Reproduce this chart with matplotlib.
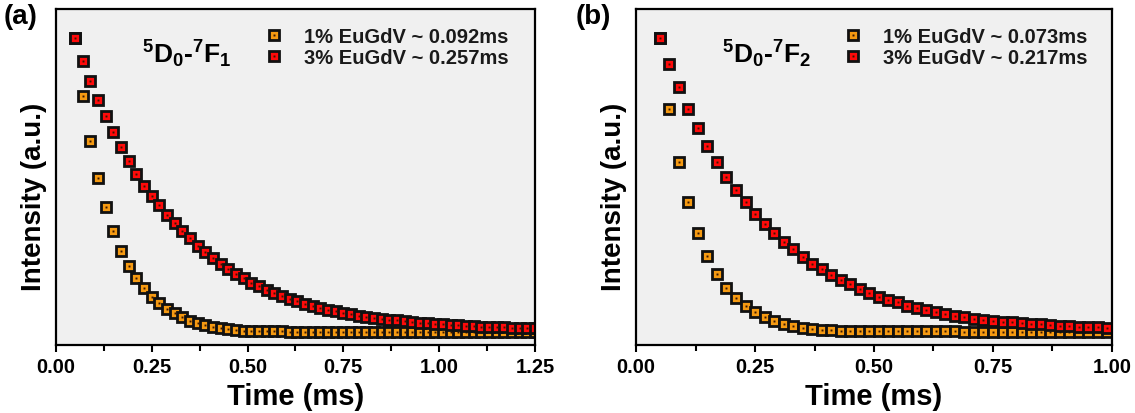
import numpy as np
import matplotlib.pyplot as plt
from matplotlib.ticker import MultipleLocator, NullLocator
from matplotlib.legend_handler import HandlerTuple

plt.rcParams['font.family'] = ['Liberation Sans', 'DejaVu Sans']
plt.rcParams['font.weight'] = 'bold'
plt.rcParams['mathtext.fontset'] = 'custom'
plt.rcParams['mathtext.rm'] = 'Liberation Sans:bold'
plt.rcParams['mathtext.bf'] = 'Liberation Sans:bold'
plt.rcParams['mathtext.default'] = 'bf'

# normalised decay curves, sampled every 0.02 ms starting at 0.05 ms
t0, dt = 0.05, 0.02

# (a) 5D0-7F1
f1_eu1 = [1.000, 0.813, 0.664, 0.544, 0.449, 0.373, 0.306, 0.259, 0.217, 0.185,
          0.157, 0.136, 0.117, 0.103, 0.090, 0.079, 0.071, 0.064, 0.059, 0.054,
          0.051, 0.049, 0.047, 0.046, 0.045, 0.044, 0.044, 0.044, 0.043, 0.043,
          0.043, 0.043, 0.043, 0.043, 0.043, 0.043, 0.043, 0.043, 0.043, 0.043,
          0.043, 0.043, 0.043, 0.042, 0.042, 0.042, 0.042, 0.042, 0.042, 0.042,
          0.042, 0.042, 0.042, 0.042, 0.042, 0.042, 0.042, 0.042, 0.042, 0.042,
          0.042]
f1_eu3 = [1.000, 0.927, 0.862, 0.800, 0.746, 0.694, 0.646, 0.599, 0.558, 0.518,
          0.485, 0.455, 0.425, 0.398, 0.372, 0.348, 0.324, 0.303, 0.284, 0.265,
          0.248, 0.231, 0.217, 0.203, 0.191, 0.179, 0.169, 0.159, 0.150, 0.142,
          0.134, 0.127, 0.121, 0.115, 0.110, 0.105, 0.100, 0.096, 0.092, 0.089,
          0.085, 0.082, 0.080, 0.077, 0.075, 0.073, 0.071, 0.069, 0.067, 0.066,
          0.064, 0.063, 0.061, 0.060, 0.059, 0.058, 0.057, 0.056, 0.055, 0.054,
          0.054]

# (b) 5D0-7F2
f2_eu1 = [1.000, 0.769, 0.596, 0.467, 0.364, 0.289, 0.231, 0.185, 0.153, 0.128,
          0.107, 0.090, 0.077, 0.068, 0.061, 0.055, 0.052, 0.050, 0.048, 0.047,
          0.046, 0.045, 0.045, 0.045, 0.045, 0.044, 0.044, 0.044, 0.044, 0.044,
          0.044, 0.044, 0.043, 0.043, 0.043, 0.043, 0.043, 0.043, 0.043, 0.043,
          0.043, 0.042, 0.042, 0.042, 0.042, 0.042, 0.042, 0.042]
f2_eu3 = [1.000, 0.916, 0.840, 0.769, 0.707, 0.648, 0.596, 0.547, 0.504, 0.465,
          0.428, 0.396, 0.366, 0.336, 0.312, 0.287, 0.265, 0.247, 0.229, 0.213,
          0.198, 0.183, 0.171, 0.158, 0.148, 0.139, 0.128, 0.120, 0.113, 0.106,
          0.100, 0.095, 0.091, 0.086, 0.082, 0.079, 0.076, 0.074, 0.071, 0.069,
          0.067, 0.065, 0.063, 0.062, 0.060, 0.059, 0.057, 0.056]

panels = [
    dict(tag='(a)', trans=r'$^{5}$D$_{0}$-$^{7}$F$_{1}$', xmax=1.25,
         y1=f1_eu1, y3=f1_eu3,
         lab1='1% EuGdV ~ 0.092ms', lab3='3% EuGdV ~ 0.257ms'),
    dict(tag='(b)', trans=r'$^{5}$D$_{0}$-$^{7}$F$_{2}$', xmax=1.00,
         y1=f2_eu1, y3=f2_eu3,
         lab1='1% EuGdV ~ 0.073ms', lab3='3% EuGdV ~ 0.217ms'),
]

orange = '#f59a12'
red = '#ff0a0a'

fig = plt.figure(figsize=(11.35, 4.14), dpi=100)
ax_pos = [[0.0493, 0.1643, 0.4220, 0.8115], [0.5604, 0.1643, 0.4193, 0.8115]]
tag_x = [0.003, 0.507]
leg_x = [0.40, 0.40]

for p, pos, tx, lx in zip(panels, ax_pos, tag_x, leg_x):
    ax = fig.add_axes(pos)
    ax.set_facecolor('#f0f0f0')

    handles = []
    for ys, col in [(p['y1'], orange), (p['y3'], red)]:
        t = t0 + dt * np.arange(len(ys))
        sq, = ax.plot(t, ys, ls='none', marker='s', ms=7.2, mfc=col,
                      mec='#111111', mew=2.0)
        dot, = ax.plot(t, ys, ls='none', marker='s', ms=1.4, mfc='#3a1500',
                       mec='none')
        handles.append((sq, dot))

    ax.set_xlim(0, p['xmax'])
    ax.set_ylim(0, 1.0955)
    ax.xaxis.set_major_locator(MultipleLocator(0.25))
    ax.xaxis.set_minor_locator(MultipleLocator(0.125))
    ax.xaxis.set_major_formatter('{x:.2f}')
    ax.yaxis.set_major_locator(NullLocator())
    ax.tick_params(axis='x', which='major', direction='out', length=5, width=1.5,
                   labelsize=14.5, pad=4)
    ax.tick_params(axis='x', which='minor', direction='out', length=4, width=1.5)
    for lbl in ax.get_xticklabels():
        lbl.set_fontweight('bold')
    for s in ax.spines.values():
        s.set_linewidth(1.6)

    ax.set_xlabel('Time (ms)', fontsize=21, fontweight='bold', labelpad=4)
    ax.set_ylabel('Intensity (a.u.)', fontsize=20, fontweight='bold')
    ax.yaxis.set_label_coords(-0.018, 0.443)

    ax.text(0.18, 0.915, p['trans'], transform=ax.transAxes, fontsize=19,
            fontweight='bold', va='top', ha='left')

    leg = ax.legend(handles, [p['lab1'], p['lab3']],
                    handler_map={tuple: HandlerTuple(ndivide=1, pad=0)},
                    loc='upper left', bbox_to_anchor=(lx, 1.0), frameon=False,
                    fontsize=14.5, handlelength=0.8, handletextpad=1.1,
                    labelspacing=0.1, borderaxespad=0.5)
    for txt in leg.get_texts():
        txt.set_fontweight('bold')
        txt.set_color('#1a1a1a')

    fig.text(tx, 0.99, p['tag'], fontsize=20, fontweight='bold', va='top',
             ha='left')

fig.savefig('out.png', dpi=100)
